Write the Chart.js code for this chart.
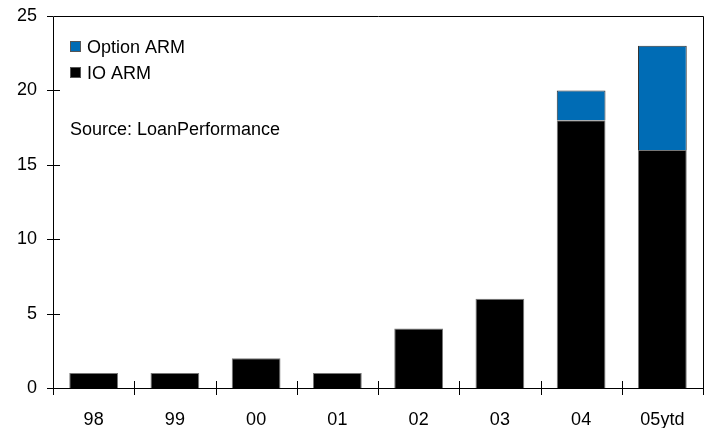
<!DOCTYPE html>
<html>
<head>
<meta charset="utf-8">
<script src="https://cdn.jsdelivr.net/npm/chart.js@4.4.1/dist/chart.umd.min.js"></script>
<style>
  html, body { margin: 0; padding: 0; background: #fff; }
  #wrap { width: 712px; height: 428px; }
</style>
</head>
<body>
<div id="wrap"><canvas id="c" width="712" height="428"></canvas></div>
<script>
// Interest-only and option ARM origination shares by year
const categories = ['98', '99', '00', '01', '02', '03', '04', '05ytd'];
const ioArm = [1, 1, 2, 1, 4, 6, 18, 16];
const optionArm = [0, 0, 0, 0, 0, 0, 2, 7];
const yTicks = [0, 5, 10, 15, 20, 25];
const sourceNote = 'Source: LoanPerformance';

const FONT = "'Liberation Sans', Arial, sans-serif";

// Frame, crossing tick marks, legend and source note
const decor = {
  id: 'decor',
  afterDraw(chart) {
    const ctx = chart.ctx;
    const a = chart.chartArea;
    const x = chart.scales.x, y = chart.scales.y;
    ctx.save();
    ctx.strokeStyle = '#000';
    ctx.lineWidth = 1;
    ctx.beginPath();
    ctx.rect(Math.round(a.left) + 0.5, Math.round(a.top) + 0.5,
             Math.round(a.right - a.left), Math.round(a.bottom - a.top));
    ctx.stroke();
    // y ticks
    ctx.beginPath();
    yTicks.forEach(v => {
      const py = Math.round(y.getPixelForValue(v)) + 0.5;
      ctx.moveTo(a.left - 6, py);
      ctx.lineTo(v === 25 ? a.left : a.left + 7, py);
    });
    // x ticks at category boundaries
    for (let i = 0; i <= categories.length; i++) {
      const px = Math.round(x.getPixelForValue(i - 0.5)) + 0.5;
      ctx.moveTo(px, a.bottom - 7);
      ctx.lineTo(px, a.bottom + 7);
    }
    ctx.stroke();
    // legend
    ctx.font = '18px ' + FONT;
    ctx.textBaseline = 'alphabetic';
    ctx.fillStyle = '#000';
    const items = [
      { label: chart.data.datasets[1].label, color: chart.data.datasets[1].backgroundColor, base: 53 },
      { label: chart.data.datasets[0].label, color: chart.data.datasets[0].backgroundColor, base: 79 }
    ];
    items.forEach(it => {
      ctx.fillStyle = it.color;
      ctx.fillRect(70, it.base - 12, 11, 11);
      ctx.strokeStyle = '#555';
      ctx.strokeRect(70.5, it.base - 11.5, 10, 10);
      ctx.fillStyle = '#000';
      ctx.fillText(it.label, 87, it.base);
    });
    ctx.fillText(sourceNote, 70, 135);
    ctx.restore();
  }
};

new Chart(document.getElementById('c'), {
  type: 'bar',
  data: {
    labels: categories,
    datasets: [
      { label: 'IO ARM', data: ioArm, backgroundColor: '#000000', borderColor: '#777', borderWidth: 1,
        barPercentage: 0.6, categoryPercentage: 1 },
      { label: 'Option ARM', data: optionArm, backgroundColor: '#006cb5', borderColor: '#333', borderWidth: 1,
        barPercentage: 0.6, categoryPercentage: 1 }
    ]
  },
  options: {
    responsive: false,
    animation: false,
    layout: { padding: { left: 0, top: 16, right: 9, bottom: 0 } },
    plugins: { legend: { display: false }, tooltip: { enabled: false } },
    scales: {
      x: {
        stacked: true,
        grid: { display: false, drawTicks: false },
        border: { display: false },
        ticks: { color: '#000', font: { family: FONT, size: 18 }, padding: 21, maxRotation: 0 },
        afterFit(s) { s.height = 40; s.paddingLeft = 0; s.paddingRight = 0; }
      },
      y: {
        stacked: true,
        min: 0, max: 25,
        afterBuildTicks(s) { s.ticks = yTicks.map(v => ({ value: v })); },
        grid: { display: false, drawTicks: false },
        border: { display: false },
        ticks: { color: '#000', font: { family: FONT, size: 18 }, padding: 16 },
        afterFit(s) { s.width = 53; s.paddingTop = 0; s.paddingBottom = 0; }
      }
    }
  },
  plugins: [decor]
});
</script>
</body>
</html>
